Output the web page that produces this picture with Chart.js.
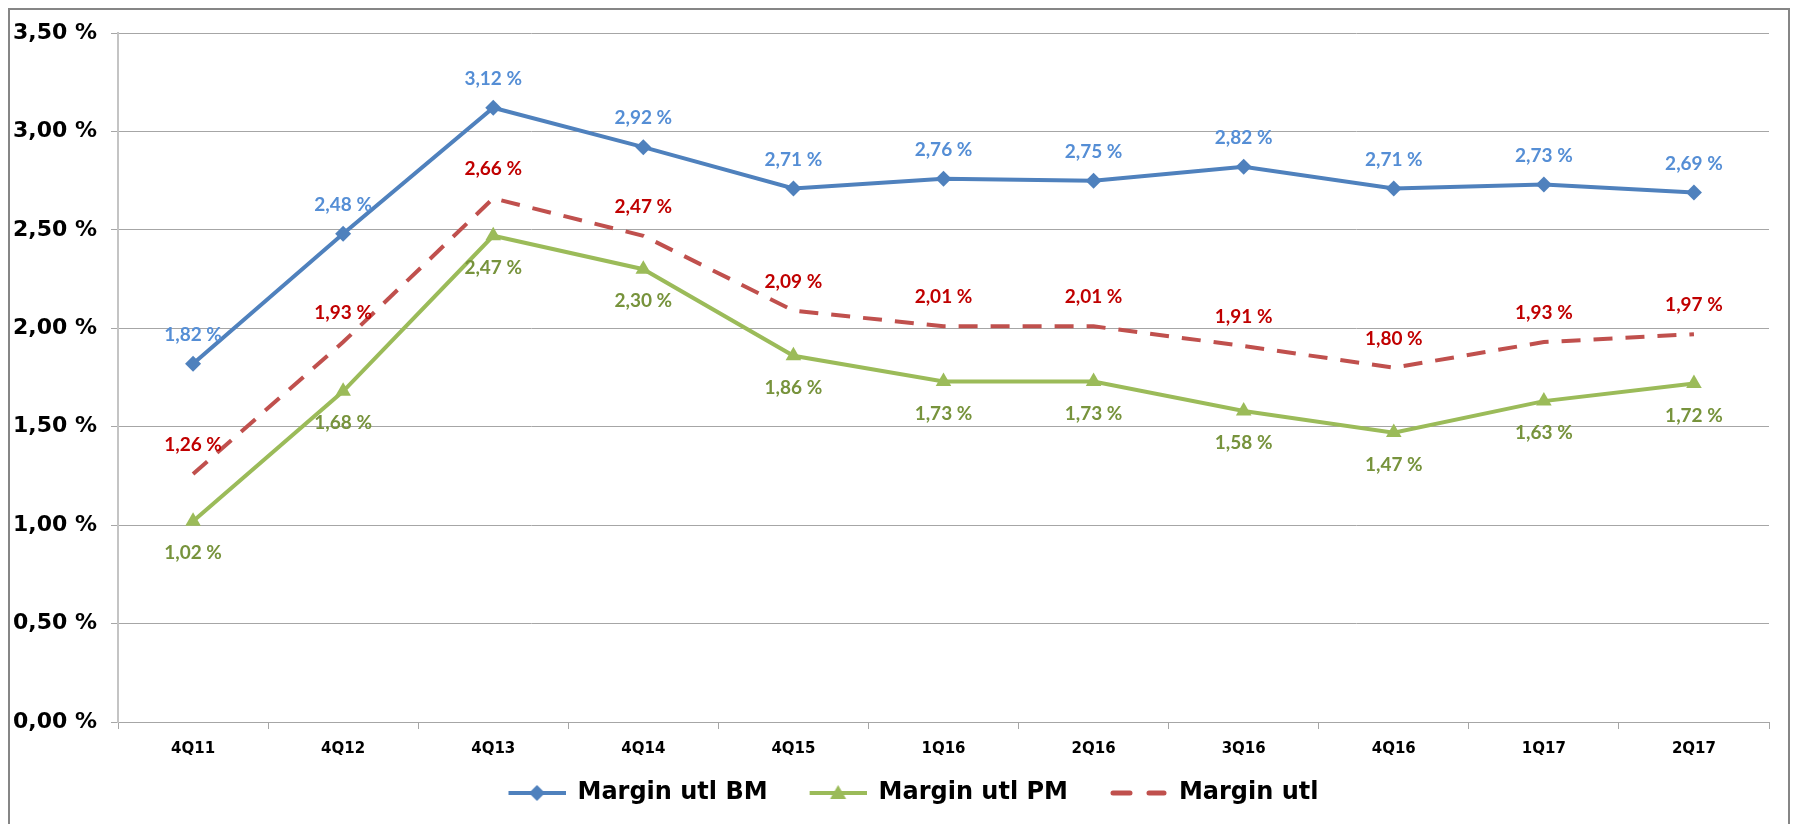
<!DOCTYPE html>
<html>
<head>
<meta charset="utf-8">
<script src="https://cdn.jsdelivr.net/npm/chart.js@4"></script>
<style>
  html, body { margin: 0; padding: 0; background: #fff; }
  #wrap { width: 1796px; height: 824px; }
</style>
</head>
<body>
<div id="wrap"><canvas id="marginChart" width="1796" height="824"></canvas></div>
<script>
// quarters on the x axis
const quarters = ['4Q11', '4Q12', '4Q13', '4Q14', '4Q15', '1Q16', '2Q16', '3Q16', '4Q16', '1Q17', '2Q17'];
// series values, in percent
const marginBM = [1.82, 2.48, 3.12, 2.92, 2.71, 2.76, 2.75, 2.82, 2.71, 2.73, 2.69];
const marginPM = [1.02, 1.68, 2.47, 2.30, 1.86, 1.73, 1.73, 1.58, 1.47, 1.63, 1.72];
const marginUtl = [1.26, 1.93, 2.66, 2.47, 2.09, 2.01, 2.01, 1.91, 1.80, 1.93, 1.97];
// y axis ticks
const yMin = 0, yMax = 3.5, yStep = 0.5;

const fmt = v => v.toFixed(2).replace('.', ',') + ' %';

// legend swatches: a short line with the series marker (blank space on the left)
const SW_PAD = 32;
function swatch(color, marker, dashed) {
    const c = document.createElement('canvas');
    c.width = 57 + SW_PAD; c.height = 20;
    const g = c.getContext('2d');
    g.translate(SW_PAD, 0);
    g.strokeStyle = color;
    g.fillStyle = color;
    g.lineWidth = dashed ? 5 : 4;
    g.lineCap = dashed ? 'round' : 'butt';
    g.beginPath();
    if (dashed) {
        g.moveTo(3, 10); g.lineTo(20, 10);
        g.moveTo(39, 10); g.lineTo(54, 10);
    } else {
        g.moveTo(0, 10); g.lineTo(57, 10);
    }
    g.stroke();
    if (marker === 'diamond') {
        g.beginPath();
        g.moveTo(28.5, 2); g.lineTo(36.5, 10); g.lineTo(28.5, 18); g.lineTo(20.5, 10);
        g.closePath(); g.fill();
    } else if (marker === 'triangle') {
        g.beginPath();
        g.moveTo(28.5, 2); g.lineTo(36.5, 16); g.lineTo(20.5, 16);
        g.closePath(); g.fill();
    }
    return c;
}

const labelColors = ['#558ED5', '#77933C', '#C00000'];
const labelOffsets = [-29, 32, -29];

const valueLabels = {
    id: 'valueLabels',
    afterDatasetsDraw(chart) {
        const ctx = chart.ctx;
        ctx.save();
        ctx.font = 'bold 19px Lato';
        ctx.textAlign = 'center';
        ctx.textBaseline = 'middle';
        chart.data.datasets.forEach((ds, i) => {
            const meta = chart.getDatasetMeta(i);
            ctx.fillStyle = labelColors[i];
            meta.data.forEach((pt, j) => {
                ctx.fillText(fmt(ds.data[j]), pt.x, pt.y + labelOffsets[i]);
            });
        });
        ctx.restore();
    }
};

const frame = {
    id: 'frame',
    beforeDraw(chart) {
        const ctx = chart.ctx;
        ctx.save();
        ctx.fillStyle = '#fff';
        ctx.fillRect(0, 0, chart.width, chart.height);
        ctx.strokeStyle = '#868686';
        ctx.lineWidth = 2;
        ctx.strokeRect(9, 9, 1780, 840);
        ctx.restore();
    },
    afterLayout(chart) {
        // the legend sits a little right of the canvas centre
        chart.legend.left += 13;
        chart.legend.right += 13;
    }
};

const ctx = document.getElementById('marginChart').getContext('2d');
new Chart(ctx, {
    type: 'line',
    data: {
        labels: quarters,
        datasets: [{
            label: 'Margin utl BM',
            data: marginBM,
            borderColor: '#4F81BD',
            backgroundColor: '#4F81BD',
            borderWidth: 4,
            pointStyle: 'rectRot',
            pointRadius: 8,
            pointBorderWidth: 0,
            fill: false,
            tension: 0
        }, {
            label: 'Margin utl PM',
            data: marginPM,
            borderColor: '#9BBB59',
            backgroundColor: '#9BBB59',
            borderWidth: 4,
            pointStyle: 'triangle',
            pointRadius: 9,
            pointBorderWidth: 0,
            fill: false,
            tension: 0
        }, {
            label: 'Margin utl',
            data: marginUtl,
            borderColor: '#C0504D',
            backgroundColor: '#C0504D',
            borderWidth: 4,
            borderDash: [19, 13],
            pointRadius: 0,
            fill: false,
            tension: 0
        }]
    },
    options: {
        responsive: false,
        animation: false,
        layout: { padding: { top: 33, right: 27, bottom: 9, left: 0 } },
        plugins: {
            tooltip: { enabled: false },
            legend: {
                position: 'bottom',
                labels: {
                    usePointStyle: true,
                    pointStyleWidth: 57 + SW_PAD,
                    padding: 10,
                    color: '#000',
                    font: { family: 'DejaVu Sans', size: 24, weight: 'bold' },
                    generateLabels(chart) {
                        const styles = [
                            swatch('#4F81BD', 'diamond', false),
                            swatch('#9BBB59', 'triangle', false),
                            swatch('#C0504D', null, true)
                        ];
                        return chart.data.datasets.map((ds, i) => ({
                            text: ds.label,
                            pointStyle: styles[i],
                            fillStyle: ds.borderColor,
                            strokeStyle: ds.borderColor,
                            lineWidth: 0,
                            hidden: false,
                            datasetIndex: i,
                            fontColor: '#000'
                        }));
                    }
                }
            }
        },
        scales: {
            x: {
                offset: true,
                grid: {
                    offset: true,
                    drawOnChartArea: false,
                    color: '#A6A6A6',
                    tickLength: 7
                },
                border: { color: '#A6A6A6', width: 1 },
                ticks: {
                    color: '#000',
                    padding: 11,
                    font: { family: 'DejaVu Sans', size: 15, weight: 'bold' }
                },
                afterFit(scale) { scale.height = 49; }
            },
            y: {
                min: yMin,
                max: yMax,
                grid: { color: '#A6A6A6', tickLength: 7 },
                border: { color: '#C4C4C4', width: 2 },
                ticks: {
                    stepSize: yStep,
                    color: '#000',
                    padding: 14,
                    font: { family: 'DejaVu Sans', size: 22, weight: 'bold' },
                    callback: v => fmt(v)
                },
                afterFit(scale) { scale.width = 118; }
            }
        }
    },
    plugins: [frame, valueLabels]
});
</script>
</body>
</html>
